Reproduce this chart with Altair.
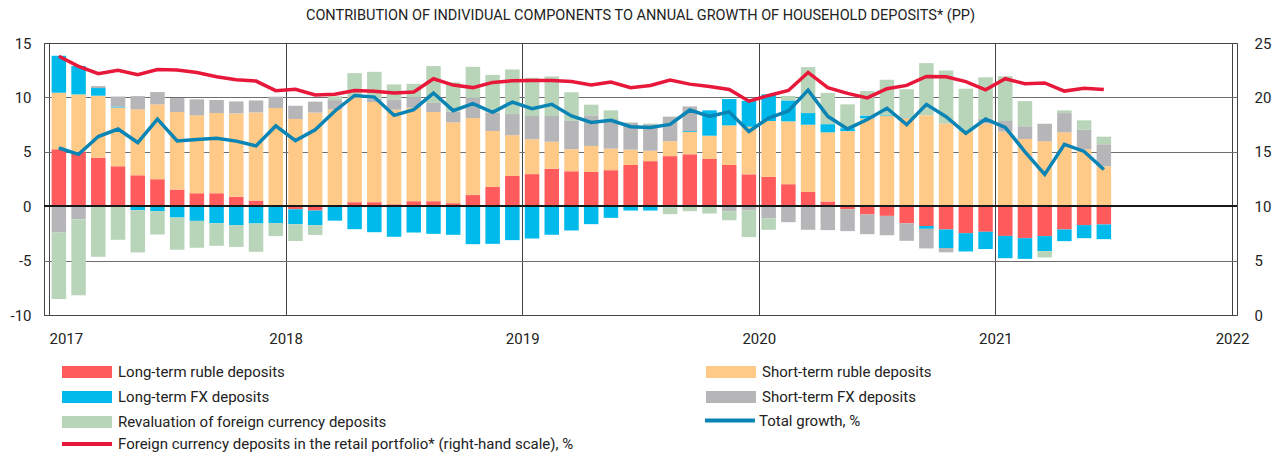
import altair as alt
import pandas as pd

# ---- data (monthly, Jan 2017 - Jun 2021), percentage points ----
months = pd.date_range("2017-01-01", periods=54, freq="MS")

lt_rub = [5.23, 4.98, 4.46, 3.67, 2.84, 2.48, 1.53, 1.19, 1.19, 0.87, 0.52, 0.05,
          -0.29, -0.40, 0.12, 0.37, 0.37, 0.18, 0.46, 0.46, 0.28, 1.02, 1.77, 2.78,
          2.95, 3.44, 3.21, 3.15, 3.31, 3.79, 4.14, 4.60, 4.77, 4.34, 3.79, 2.93,
          2.69, 2.02, 1.31, 0.43, -0.28, -0.76, -0.89, -1.57, -1.82, -2.14, -2.48, -2.35,
          -2.73, -2.94, -2.75, -2.14, -1.74, -1.68]
st_rub = [5.20, 5.30, 5.70, 5.40, 6.06, 6.88, 7.12, 7.16, 7.37, 7.66, 8.10, 8.97,
          8.02, 8.60, 8.78, 9.66, 9.20, 8.69, 8.59, 8.20, 7.43, 7.08, 5.14, 3.75,
          3.20, 2.49, 2.03, 2.39, 1.98, 1.41, 0.96, 1.37, 2.05, 2.14, 3.64, 4.38,
          5.14, 5.78, 6.18, 6.36, 6.90, 8.07, 8.28, 8.10, 8.37, 7.60, 6.82, 7.60,
          6.85, 6.18, 5.96, 6.79, 5.23, 3.67]
lt_fx = [3.40, 2.60, 0.70, 0.09, -0.37, -0.46, -1.04, -1.35, -1.56, -1.74, -1.59, -1.55,
         -1.37, -1.34, -1.33, -2.11, -2.39, -2.81, -2.42, -2.54, -2.63, -3.49, -3.46, -3.12,
         -2.97, -2.63, -2.23, -1.65, -1.07, -0.40, -0.40, -0.10, 0.08, 2.33, 2.42, 2.38,
         2.45, 1.92, 1.07, 0.75, 0.27, 0.26, 0.07, 0.05, -0.26, -1.70, -1.68, -1.59,
         -2.05, -1.90, -1.38, -1.07, -1.20, -1.35]
st_fx = [-2.42, -1.19, 0.18, 0.92, 1.22, 1.13, 1.29, 1.47, 1.20, 1.10, 1.10, 1.05,
         1.22, 1.01, 0.85, 0.00, 0.31, 0.95, 0.98, 0.83, 0.98, 1.85, 1.69, 1.94,
         2.14, 2.35, 2.60, 2.81, 2.72, 2.45, 2.44, 2.26, 2.27, 0.00, -0.46, -0.37,
         -1.10, -1.47, -2.17, -2.20, -2.01, -1.81, -1.78, -1.61, -1.80, -0.40, 0.00, 0.44,
         0.98, 1.17, 1.62, 1.77, 1.80, 2.02]
reval = [-6.10, -7.00, -4.65, -3.09, -3.88, -2.14, -2.96, -2.47, -2.08, -2.00, -2.60, -1.20,
         -1.55, -0.90, 0.35, 2.20, 2.47, 1.37, 1.22, 3.39, 2.69, 2.86, 3.47, 4.10,
         3.51, 3.64, 2.63, 0.98, 0.80, 0.05, 0.05, -0.63, -0.46, -0.67, -0.83, -2.47,
         -1.07, 0.41, 4.22, 2.87, 2.19, 2.25, 3.27, 2.60, 4.78, 4.87, 3.98, 3.81,
         4.12, 2.31, -0.58, 0.25, 0.86, 0.70]
total = [5.35, 4.77, 6.40, 7.09, 5.85, 8.00, 6.00, 6.12, 6.25, 5.98, 5.54, 7.38,
         6.03, 7.03, 8.75, 10.18, 10.03, 8.35, 8.87, 10.40, 8.78, 9.42, 8.62, 9.57,
         8.96, 9.36, 8.29, 7.70, 7.89, 7.31, 7.23, 7.52, 8.84, 8.26, 8.67, 6.87,
         8.10, 8.75, 10.67, 8.26, 7.10, 7.97, 9.00, 7.49, 9.36, 8.23, 6.70, 8.01,
         7.25, 5.00, 2.92, 5.68, 5.03, 3.37]
fx_share = [23.78, 22.86, 22.18, 22.50, 22.08, 22.57, 22.52, 22.28, 21.90, 21.62, 21.50, 20.62,
            20.75, 20.22, 20.30, 20.64, 20.56, 20.40, 20.49, 21.71, 21.13, 20.90, 21.38, 21.53,
            21.56, 21.56, 21.47, 21.15, 21.41, 20.89, 21.10, 21.60, 21.22, 21.00, 20.73, 19.65,
            20.18, 20.64, 22.29, 20.89, 20.37, 19.96, 20.80, 21.10, 21.92, 21.90, 21.45, 20.70,
            21.72, 21.25, 21.33, 20.58, 20.83, 20.72]

series_names = ["Long-term ruble deposits", "Short-term ruble deposits",
                "Long-term FX deposits", "Short-term FX deposits",
                "Revaluation of foreign currency deposits"]
series_colors = ["#ff5a5c", "#ffca88", "#00baeb", "#b6b6b9", "#b8d4b9"]
total_name = "Total growth, %"
fx_name = "Foreign currency deposits in the retail portfolio* (right-hand scale), %"
year_ticks = [0, 12, 24, 36, 48, 60]
left_ticks = [-10, -5, 0, 5, 10, 15]
right_ticks = [0, 5, 10, 15, 20, 25]
title_text = "CONTRIBUTION OF INDIVIDUAL COMPONENTS TO ANNUAL GROWTH OF HOUSEHOLD DEPOSITS* (PP)"

# month position on a 0..60 scale (centre of each month)
pos = [(m.year - 2017) * 12 + (m.month - 1) + 0.5 for m in months]

rows = []
for k, (name, vals) in enumerate(zip(series_names, [lt_rub, st_rub, lt_fx, st_fx, reval])):
    for p, v in zip(pos, vals):
        rows.append({"pos": p, "series": name, "ord": k, "value": v})
bars_df = pd.DataFrame(rows)
lines_df = pd.DataFrame({"pos": pos, "total": total, "fx": fx_share,
                         "s_total": total_name, "s_fx": fx_name})

FONT = "Roboto"
TXT = "#222222"


def x_enc():
    return alt.X(
        "pos:Q",
        scale=alt.Scale(domain=[0, 60], nice=False, zero=False),
        axis=alt.Axis(values=year_ticks, labelExpr="2017 + datum.value / 12",
                      labelAlign=alt.condition("datum.value == 0", alt.value("left"),
                                               alt.value("center")),
                      grid=True, gridColor="#444444", gridWidth=1,
                      ticks=False, domain=False, labelPadding=16,
                      labelFontSize=15, labelFont=FONT, labelColor=TXT, title=None),
    )


left_scale = alt.Scale(domain=[-10, 15], nice=False, zero=False)


def left_axis():
    return alt.Axis(values=left_ticks, grid=True,
                    gridColor=alt.condition("datum.value == -10 || datum.value == 15",
                                            alt.value("#444444"), alt.value("#6e6e6e")),
                    labelExpr="datum.value < 0 ? '-' + abs(datum.value) : datum.label",
                    ticks=False, domain=False, labelPadding=13,
                    labelFontSize=15, labelFont=FONT, labelColor=TXT, title=None)


BAR_SYM = "M-2.5,-0.6L2.5,-0.6L2.5,0.6L-2.5,0.6Z"
LINE_SYM = "M-2.5,0L2.5,0"

bars = alt.Chart(bars_df).mark_bar(size=14.5).encode(
    x=x_enc(),
    y=alt.Y("value:Q", stack="zero", scale=left_scale, axis=left_axis()),
    fill=alt.Fill("series:N",
                  scale=alt.Scale(domain=series_names, range=series_colors),
                  legend=alt.Legend(title=None, orient="none", legendX=18, legendY=319,
                                    direction="horizontal",
                                    columns=2, columnPadding=319, rowPadding=7,
                                    padding=0, symbolType=BAR_SYM, symbolSize=400,
                                    symbolStrokeWidth=0, symbolOffset=15, labelOffset=21,
                                    labelFontSize=15, labelFont=FONT, labelColor=TXT,
                                    labelLimit=700)),
    order=alt.Order("ord:Q", sort="ascending"),
)

zero_rule = alt.Chart(lines_df).mark_rule(color="#1a1a1a", strokeWidth=1).encode(
    y=alt.datum(0)
)

total_line = alt.Chart(lines_df).mark_line(strokeWidth=3.5, strokeJoin="miter").encode(
    x=x_enc(),
    y=alt.Y("total:Q", scale=left_scale, axis=left_axis()),
    stroke=alt.Stroke("s_total:N",
                      scale=alt.Scale(domain=[total_name], range=["#0a84b4"]),
                      legend=alt.Legend(title=None, orient="none", legendX=661, legendY=365.5,
                                        padding=0, symbolType=LINE_SYM, symbolSize=400,
                                        symbolStrokeWidth=4, symbolOffset=13, labelOffset=17,
                                        labelFontSize=15, labelFont=FONT, labelColor=TXT,
                                        labelLimit=700)),
)

fx_line = alt.Chart(lines_df).mark_line(strokeWidth=3.5, strokeJoin="miter").encode(
    x=x_enc(),
    y=alt.Y("fx:Q", scale=alt.Scale(domain=[0, 25], nice=False, zero=False),
            axis=alt.Axis(orient="right", values=right_ticks, grid=False, ticks=False,
                          domain=False, labelPadding=17, labelFontSize=15,
                          labelFont=FONT, labelColor=TXT, title=None)),
    stroke=alt.Stroke("s_fx:N",
                      scale=alt.Scale(domain=[fx_name], range=["#e8183b"]),
                      legend=alt.Legend(title=None, orient="none", legendX=18, legendY=389,
                                        padding=0, symbolType=LINE_SYM, symbolSize=400,
                                        symbolStrokeWidth=4, symbolOffset=13, labelOffset=19,
                                        labelFontSize=15, labelFont=FONT, labelColor=TXT,
                                        labelLimit=700)),
)

inner = alt.layer(bars, zero_rule, total_line)

chart = alt.layer(inner, fx_line).resolve_scale(
    y="independent", stroke="independent"
).properties(
    width=1193,
    height=272,
    title=alt.TitleParams(text=title_text, fontSize=14.5, font=FONT, fontWeight="normal",
                          color=TXT, anchor="middle", baseline="alphabetic", offset=2),
    autosize=alt.AutoSizeParams(type="none"),
    padding={"left": 36, "top": 35, "right": 39, "bottom": 140},
).configure_view(stroke="#444444", strokeWidth=1)

chart.save("out.html", embed_options={"renderer": "svg", "actions": False})
